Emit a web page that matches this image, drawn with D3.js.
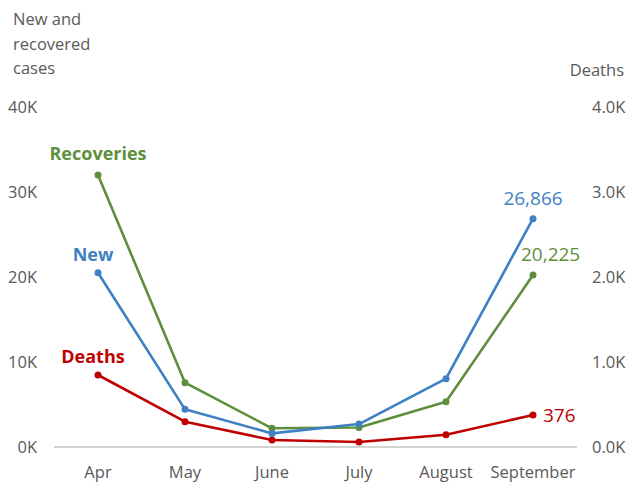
<!DOCTYPE html>
<html>
<head>
<meta charset="utf-8">
<script src="https://cdn.jsdelivr.net/npm/d3@7"></script>
<style>
  body { margin: 0; background: #fff; }
  svg text { font-family: "Open Sans", "Noto Sans", sans-serif; }
</style>
</head>
<body>
<div id="chart"></div>
<script>
var months     = ['Apr', 'May', 'June', 'July', 'August', 'September'];
var new_cases  = [20500, 4430, 1600, 2700, 8040, 26866];
var recoveries = [32000, 7570, 2200, 2300, 5330, 20225];
var deaths     = [847, 298, 82, 59, 145, 376];
var left_ticks  = [0, 10000, 20000, 30000, 40000];
var right_ticks = [0, 1000, 2000, 3000, 4000];

var colors = { new: '#3f7fc4', rec: '#5e8f3c', dth: '#c00000' };

var W = 630, H = 484;
var svg = d3.select('#chart').append('svg')
  .attr('width', W)
  .attr('height', H);

var x = d3.scalePoint()
  .domain(months)
  .range([98, 533]);

var y = d3.scaleLinear()
  .domain([0, 40000])
  .range([447, 107]);

var y2 = d3.scaleLinear()
  .domain([0, 4000])
  .range([447, 107]);

// axis titles
svg.append('text')
  .attr('x', 13).attr('y', 25)
  .attr('fill', '#595959').style('font-size', '16.5px')
  .selectAll('tspan')
  .data(['New and', 'recovered', 'cases']).enter()
  .append('tspan')
  .attr('x', 13)
  .attr('dy', (d,i) => i ? 24.5 : 0)
  .text((d) => d);

svg.append('text')
  .attr('x', 624).attr('y', 76)
  .attr('text-anchor', 'end')
  .attr('fill', '#595959').style('font-size', '16.5px')
  .text('Deaths');

// tick labels
svg.selectAll('text.yl')
  .data(left_ticks).enter()
  .append('text')
  .attr('class', 'yl')
  .attr('x', 37)
  .attr('y', (d) => y(d) + 6)
  .attr('text-anchor', 'end')
  .attr('fill', '#595959').style('font-size', '16.5px')
  .text((d) => (d / 1000) + 'K');

svg.selectAll('text.yr')
  .data(right_ticks).enter()
  .append('text')
  .attr('class', 'yr')
  .attr('x', 592)
  .attr('y', (d) => y2(d) + 6)
  .attr('fill', '#595959').style('font-size', '16.5px')
  .text((d) => (d / 1000).toFixed(1) + 'K');

svg.selectAll('text.xl')
  .data(months).enter()
  .append('text')
  .attr('class', 'xl')
  .attr('x', (d) => x(d))
  .attr('y', 478)
  .attr('text-anchor', 'middle')
  .attr('fill', '#595959').style('font-size', '16.5px')
  .text((d) => d);

// baseline
svg.append('line')
  .attr('x1', 54).attr('x2', 577)
  .attr('y1', y(0)).attr('y2', y(0))
  .attr('stroke', '#a6a6a6')
  .attr('stroke-width', 1.2);

var series = [
  { key: 'dth', values: deaths, scale: y2 },
  { key: 'rec', values: recoveries, scale: y },
  { key: 'new', values: new_cases, scale: y }
];

series.forEach((s) => {
  var line = d3.line()
    .x((d,i) => x(months[i]))
    .y((d) => s.scale(d));

  svg.append('path')
    .datum(s.values)
    .attr('d', line)
    .attr('fill', 'none')
    .attr('stroke', colors[s.key])
    .attr('stroke-width', 2.6)
    .attr('stroke-linejoin', 'round');

  svg.selectAll('circle.' + s.key)
    .data(s.values).enter()
    .append('circle')
    .attr('class', s.key)
    .attr('cx', (d,i) => x(months[i]))
    .attr('cy', (d) => s.scale(d))
    .attr('r', 3.5)
    .attr('fill', colors[s.key]);
});

// series names
var names = [
  { t: 'Recoveries', k: 'rec', v: recoveries[0], sc: y, dy: -15 },
  { t: 'New', k: 'new', v: new_cases[0], sc: y, dy: -12 },
  { t: 'Deaths', k: 'dth', v: deaths[0], sc: y2, dy: -12 }
];

svg.selectAll('text.nm')
  .data(names).enter()
  .append('text')
  .attr('class', 'nm')
  .attr('x', (d) => d.k === 'rec' ? x(months[0]) : x(months[0]) - 5)
  .attr('y', (d) => d.sc(d.v) + d.dy)
  .attr('text-anchor', 'middle')
  .attr('fill', (d) => colors[d.k])
  .style('font-size', '18px')
  .style('font-weight', 'bold')
  .text((d) => d.t);

// end values
var last = months.length - 1;
var fmt = d3.format(',');

svg.append('text')
  .attr('x', x(months[last]))
  .attr('y', y(new_cases[last]) - 14)
  .attr('text-anchor', 'middle')
  .attr('fill', colors.new).style('font-size', '19px')
  .text(fmt(new_cases[last]));

svg.append('text')
  .attr('x', x(months[last]) - 12)
  .attr('y', y(recoveries[last]) - 14)
  .attr('fill', colors.rec).style('font-size', '19px')
  .text(fmt(recoveries[last]));

svg.append('text')
  .attr('x', x(months[last]) + 10)
  .attr('y', y2(deaths[last]) + 7)
  .attr('fill', colors.dth).style('font-size', '19px')
  .text(fmt(deaths[last]));
</script>
</body>
</html>
